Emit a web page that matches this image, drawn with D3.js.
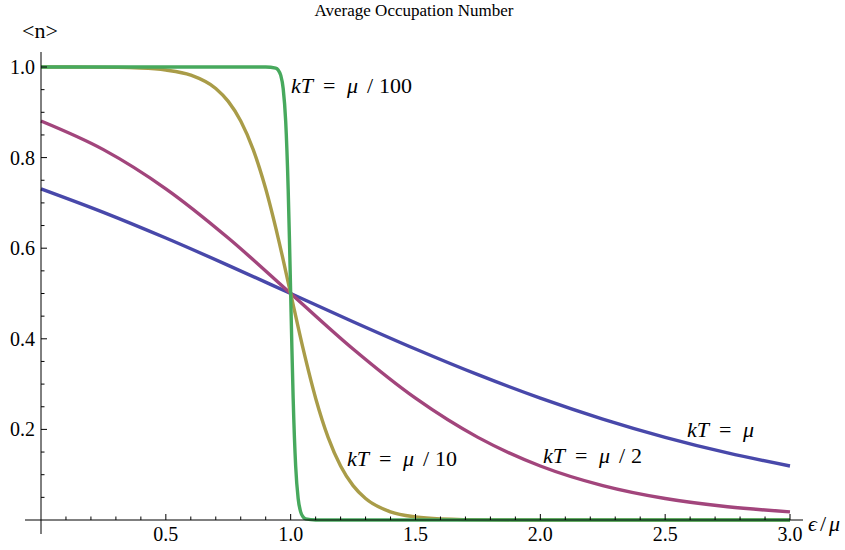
<!DOCTYPE html>
<html>
<head>
<meta charset="utf-8">
<script src="https://cdn.jsdelivr.net/npm/d3@7"></script>
<style>
  html, body { margin: 0; padding: 0; background: #fff; }
  svg { display: block; }
</style>
</head>
<body>
<svg id="chart" width="845" height="550"></svg>
<script>
// Fermi–Dirac occupation <n> versus ε/μ, sampled for four temperatures.
const xMu1 = [0, 0.25, 0.5, 0.75, 1.0, 1.25, 1.5, 1.75, 2.0, 2.25, 2.5, 2.75, 3.0];
const nMu1 = [0.7311, 0.6792, 0.6225, 0.5622, 0.5, 0.4378, 0.3775, 0.3208, 0.2689, 0.2227, 0.1824, 0.1480, 0.1192];

const xMu2 = [0, 0.25, 0.5, 0.75, 1.0, 1.25, 1.5, 1.75, 2.0, 2.25, 2.5, 2.75, 3.0];
const nMu2 = [0.8808, 0.8176, 0.7311, 0.6225, 0.5, 0.3775, 0.2689, 0.1824, 0.1192, 0.0759, 0.0474, 0.0293, 0.0180];

const xMu10 = [0, 0.2, 0.4, 0.5, 0.6, 0.7, 0.75, 0.8, 0.85, 0.9, 0.95, 1.0, 1.05, 1.1, 1.15, 1.2, 1.25, 1.3, 1.4, 1.5, 1.6, 1.8, 2.0, 2.5, 3.0];
const nMu10 = [0.99995, 0.99966, 0.99753, 0.99331, 0.98201, 0.95257, 0.92414, 0.88080, 0.81757, 0.73106, 0.62246, 0.5, 0.37754, 0.26894, 0.18243, 0.11920, 0.07586, 0.04743, 0.01799, 0.00669, 0.00247, 0.00034, 0.00005, 0, 0];

const xMu100 = [0, 0.5, 0.9, 0.94, 0.95, 0.96, 0.97, 0.98, 0.99, 0.995, 1.0, 1.005, 1.01, 1.02, 1.03, 1.04, 1.05, 1.06, 1.1, 1.5, 2.0, 2.5, 3.0];
const nMu100 = [1, 1, 0.99995, 0.99753, 0.99331, 0.98201, 0.95257, 0.88080, 0.73106, 0.62246, 0.5, 0.37754, 0.26894, 0.11920, 0.04743, 0.01799, 0.00669, 0.00247, 0.00005, 0, 0, 0, 0];

const xTicksMajor = [0.5, 1.0, 1.5, 2.0, 2.5, 3.0];
const yTicksMajor = [0.2, 0.4, 0.6, 0.8, 1.0];
const tempDivisors = ["", "2", "10", "100"];

const SERIF = "Liberation Serif";

const series = [
  { xs: xMu1,   ys: nMu1,   color: "#4848aa", tail: tempDivisors[0] },
  { xs: xMu2,   ys: nMu2,   color: "#a2457c", tail: tempDivisors[1] },
  { xs: xMu10,  ys: nMu10,  color: "#a99c48", tail: tempDivisors[2] },
  { xs: xMu100, ys: nMu100, color: "#47a95d", tail: tempDivisors[3] }
];

const svg = d3.select("#chart");

const x = d3.scaleLinear().domain([0, 3]).range([41, 790]);
const y = d3.scaleLinear().domain([0, 1]).range([520, 67]);

// curves, drawn in series order so the sharpest one sits on top
const line = d3.line().curve(d3.curveMonotoneX);
series.forEach(s => {
  const pts = s.xs.map((v, i) => [x(v), y(s.ys[i])]);
  svg.append("path")
    .attr("d", line(pts))
    .attr("fill", "none")
    .attr("stroke", s.color)
    .attr("stroke-width", 3.4)
    .attr("stroke-linejoin", "round");
});

// axes in the crossing style: both lines pass through the origin
const axisG = svg.append("g").attr("stroke", "#000").attr("stroke-width", 1);
axisG.append("line").attr("x1", 25).attr("x2", 803).attr("y1", y(0)).attr("y2", y(0));
axisG.append("line").attr("x1", x(0)).attr("x2", x(0)).attr("y1", 52).attr("y2", 534);

// x ticks: minor every 0.1, major every 0.5
d3.range(1, 31).forEach(i => {
  const v = i / 10;
  const major = i % 5 === 0;
  axisG.append("line")
    .attr("x1", x(v)).attr("x2", x(v))
    .attr("y1", y(0)).attr("y2", y(0) - (major ? 6 : 3.5));
});
// y ticks: minor every 0.05, major every 0.2
d3.range(1, 21).forEach(i => {
  const v = i / 20;
  const major = i % 4 === 0;
  axisG.append("line")
    .attr("x1", x(0)).attr("x2", x(0) + (major ? 6 : 3.5))
    .attr("y1", y(v)).attr("y2", y(v));
});

const txt = sel => sel.attr("font-family", SERIF).attr("fill", "#000");

svg.append("g").selectAll("text").data(xTicksMajor).join("text")
  .call(txt)
  .attr("x", d => x(d)).attr("y", 541)
  .attr("text-anchor", "middle")
  .attr("font-size", 20)
  .text(d => d3.format(".1f")(d));

svg.append("g").selectAll("text").data(yTicksMajor).join("text")
  .call(txt)
  .attr("x", 35).attr("y", d => y(d) + 7)
  .attr("text-anchor", "end")
  .attr("font-size", 20)
  .text(d => d3.format(".1f")(d));

// axis labels and title
svg.append("text").call(txt).attr("x", 22).attr("y", 38).attr("font-size", 22).text("<n>");

const xLab = svg.append("text").call(txt).attr("y", 531).attr("font-size", 22);
xLab.append("tspan").attr("x", 808).attr("font-style", "italic").text("ϵ");
xLab.append("tspan").attr("x", 820).text("/");
xLab.append("tspan").attr("x", 829).attr("font-style", "italic").text("μ");

svg.append("text").call(txt).attr("x", 414).attr("y", 16).attr("text-anchor", "middle")
  .attr("font-size", 17).text("Average Occupation Number");

// curve labels: kT = μ / n, laid out with math-style spacing
const labelPos = [
  { x: 687, y: 437 },
  { x: 543, y: 463 },
  { x: 347, y: 466 },
  { x: 291, y: 93 }
];
series.forEach((s, i) => {
  const p = labelPos[i];
  const t = svg.append("text").call(txt)
    .attr("y", p.y)
    .attr("font-size", 22);
  t.append("tspan").attr("x", p.x).attr("font-style", "italic").text("kT");
  t.append("tspan").attr("x", p.x + 32).text("=");
  t.append("tspan").attr("x", p.x + 56).attr("font-style", "italic").text("μ");
  if (s.tail) {
    t.append("tspan").attr("x", p.x + 76).text("/");
    t.append("tspan").attr("x", p.x + 88).text(s.tail);
  }
});
</script>
</body>
</html>
